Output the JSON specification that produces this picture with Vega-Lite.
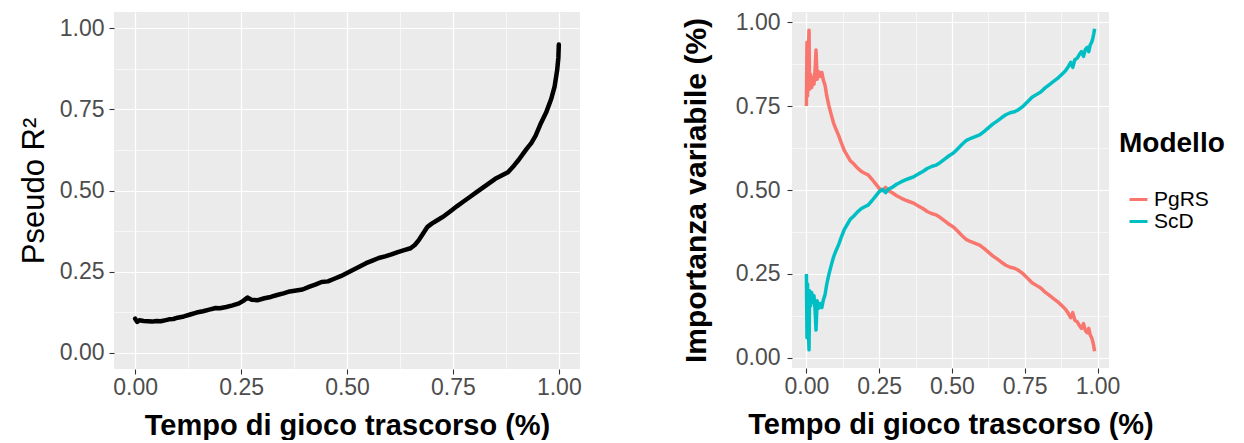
{
  "$schema": "https://vega.github.io/schema/vega-lite/v6.json",
  "padding": {"left": 18, "top": 11, "right": 5, "bottom": 0},
  "spacing": 99,
  "config": {
    "font": "Liberation Sans",
    "view": {"fill": "#EBEBEB", "stroke": null},
    "axis": {"domain": false, "tickColor": "#333333", "tickSize": 5, "tickWidth": 1.1, "labelFontSize": 23, "labelColor": "#4D4D4D", "labelOverlap": false, "labelFlush": false, "titleFontSize": 30, "titleColor": "#000000", "gridColor": "#FFFFFF"},
    "axisX": {"labelPadding": 2, "titlePadding": 12, "titleFontSize": 29},
    "axisY": {"labelPadding": 5}
  },
  "datasets": {
    "r2": [
      {"t":0.000,"r2":0.105},{"t":0.005,"r2":0.095},{"t":0.010,"r2":0.100},{"t":0.020,"r2":0.098},{"t":0.030,"r2":0.097},{"t":0.040,"r2":0.096},{"t":0.050,"r2":0.098},{"t":0.060,"r2":0.097},{"t":0.070,"r2":0.100},{"t":0.080,"r2":0.103},{"t":0.090,"r2":0.104},{"t":0.100,"r2":0.108},{"t":0.115,"r2":0.112},{"t":0.130,"r2":0.118},{"t":0.145,"r2":0.124},{"t":0.160,"r2":0.128},{"t":0.175,"r2":0.133},{"t":0.190,"r2":0.138},{"t":0.200,"r2":0.137},{"t":0.215,"r2":0.141},{"t":0.230,"r2":0.146},{"t":0.245,"r2":0.152},{"t":0.255,"r2":0.160},{"t":0.265,"r2":0.170},{"t":0.275,"r2":0.163},{"t":0.290,"r2":0.162},{"t":0.305,"r2":0.168},{"t":0.320,"r2":0.172},{"t":0.335,"r2":0.178},{"t":0.350,"r2":0.183},{"t":0.365,"r2":0.189},{"t":0.380,"r2":0.192},{"t":0.395,"r2":0.195},{"t":0.410,"r2":0.203},{"t":0.425,"r2":0.210},{"t":0.440,"r2":0.218},{"t":0.455,"r2":0.220},{"t":0.470,"r2":0.228},{"t":0.485,"r2":0.236},{"t":0.500,"r2":0.246},{"t":0.515,"r2":0.256},{"t":0.530,"r2":0.266},{"t":0.545,"r2":0.276},{"t":0.560,"r2":0.284},{"t":0.575,"r2":0.292},{"t":0.590,"r2":0.297},{"t":0.605,"r2":0.303},{"t":0.620,"r2":0.310},{"t":0.635,"r2":0.316},{"t":0.650,"r2":0.322},{"t":0.660,"r2":0.332},{"t":0.670,"r2":0.348},{"t":0.680,"r2":0.368},{"t":0.690,"r2":0.388},{"t":0.700,"r2":0.398},{"t":0.715,"r2":0.410},{"t":0.730,"r2":0.422},{"t":0.745,"r2":0.437},{"t":0.760,"r2":0.452},{"t":0.775,"r2":0.466},{"t":0.790,"r2":0.480},{"t":0.805,"r2":0.494},{"t":0.820,"r2":0.508},{"t":0.835,"r2":0.522},{"t":0.850,"r2":0.536},{"t":0.865,"r2":0.546},{"t":0.880,"r2":0.556},{"t":0.895,"r2":0.578},{"t":0.905,"r2":0.594},{"t":0.915,"r2":0.612},{"t":0.925,"r2":0.630},{"t":0.935,"r2":0.646},{"t":0.945,"r2":0.668},{"t":0.958,"r2":0.708},{"t":0.970,"r2":0.740},{"t":0.982,"r2":0.782},{"t":0.990,"r2":0.820},{"t":0.996,"r2":0.870},{"t":0.999,"r2":0.910},{"t":1.000,"r2":0.950}
    ],
    "imp": [
      {"t":0.000,"v":0.750,"Modello":"PgRS"},{"t":0.000,"v":0.250,"Modello":"ScD"},
      {"t":0.002,"v":0.940,"Modello":"PgRS"},{"t":0.002,"v":0.060,"Modello":"ScD"},
      {"t":0.004,"v":0.780,"Modello":"PgRS"},{"t":0.004,"v":0.220,"Modello":"ScD"},
      {"t":0.006,"v":0.900,"Modello":"PgRS"},{"t":0.006,"v":0.100,"Modello":"ScD"},
      {"t":0.009,"v":0.976,"Modello":"PgRS"},{"t":0.009,"v":0.024,"Modello":"ScD"},
      {"t":0.011,"v":0.800,"Modello":"PgRS"},{"t":0.011,"v":0.200,"Modello":"ScD"},
      {"t":0.014,"v":0.845,"Modello":"PgRS"},{"t":0.014,"v":0.155,"Modello":"ScD"},
      {"t":0.018,"v":0.805,"Modello":"PgRS"},{"t":0.018,"v":0.195,"Modello":"ScD"},
      {"t":0.022,"v":0.835,"Modello":"PgRS"},{"t":0.022,"v":0.165,"Modello":"ScD"},
      {"t":0.026,"v":0.815,"Modello":"PgRS"},{"t":0.026,"v":0.185,"Modello":"ScD"},
      {"t":0.030,"v":0.860,"Modello":"PgRS"},{"t":0.030,"v":0.140,"Modello":"ScD"},
      {"t":0.033,"v":0.917,"Modello":"PgRS"},{"t":0.033,"v":0.083,"Modello":"ScD"},
      {"t":0.037,"v":0.830,"Modello":"PgRS"},{"t":0.037,"v":0.170,"Modello":"ScD"},
      {"t":0.042,"v":0.852,"Modello":"PgRS"},{"t":0.042,"v":0.148,"Modello":"ScD"},
      {"t":0.048,"v":0.838,"Modello":"PgRS"},{"t":0.048,"v":0.162,"Modello":"ScD"},
      {"t":0.053,"v":0.850,"Modello":"PgRS"},{"t":0.053,"v":0.150,"Modello":"ScD"},
      {"t":0.058,"v":0.828,"Modello":"PgRS"},{"t":0.058,"v":0.172,"Modello":"ScD"},
      {"t":0.064,"v":0.812,"Modello":"PgRS"},{"t":0.064,"v":0.188,"Modello":"ScD"},
      {"t":0.070,"v":0.780,"Modello":"PgRS"},{"t":0.070,"v":0.220,"Modello":"ScD"},
      {"t":0.077,"v":0.752,"Modello":"PgRS"},{"t":0.077,"v":0.248,"Modello":"ScD"},
      {"t":0.085,"v":0.725,"Modello":"PgRS"},{"t":0.085,"v":0.275,"Modello":"ScD"},
      {"t":0.093,"v":0.700,"Modello":"PgRS"},{"t":0.093,"v":0.300,"Modello":"ScD"},
      {"t":0.102,"v":0.680,"Modello":"PgRS"},{"t":0.102,"v":0.320,"Modello":"ScD"},
      {"t":0.111,"v":0.662,"Modello":"PgRS"},{"t":0.111,"v":0.338,"Modello":"ScD"},
      {"t":0.120,"v":0.640,"Modello":"PgRS"},{"t":0.120,"v":0.360,"Modello":"ScD"},
      {"t":0.130,"v":0.618,"Modello":"PgRS"},{"t":0.130,"v":0.382,"Modello":"ScD"},
      {"t":0.140,"v":0.603,"Modello":"PgRS"},{"t":0.140,"v":0.397,"Modello":"ScD"},
      {"t":0.150,"v":0.588,"Modello":"PgRS"},{"t":0.150,"v":0.412,"Modello":"ScD"},
      {"t":0.162,"v":0.578,"Modello":"PgRS"},{"t":0.162,"v":0.422,"Modello":"ScD"},
      {"t":0.175,"v":0.566,"Modello":"PgRS"},{"t":0.175,"v":0.434,"Modello":"ScD"},
      {"t":0.188,"v":0.556,"Modello":"PgRS"},{"t":0.188,"v":0.444,"Modello":"ScD"},
      {"t":0.200,"v":0.550,"Modello":"PgRS"},{"t":0.200,"v":0.450,"Modello":"ScD"},
      {"t":0.212,"v":0.545,"Modello":"PgRS"},{"t":0.212,"v":0.455,"Modello":"ScD"},
      {"t":0.225,"v":0.532,"Modello":"PgRS"},{"t":0.225,"v":0.468,"Modello":"ScD"},
      {"t":0.238,"v":0.518,"Modello":"PgRS"},{"t":0.238,"v":0.482,"Modello":"ScD"},
      {"t":0.250,"v":0.505,"Modello":"PgRS"},{"t":0.250,"v":0.495,"Modello":"ScD"},
      {"t":0.262,"v":0.498,"Modello":"PgRS"},{"t":0.262,"v":0.502,"Modello":"ScD"},
      {"t":0.272,"v":0.508,"Modello":"PgRS"},{"t":0.272,"v":0.492,"Modello":"ScD"},
      {"t":0.282,"v":0.497,"Modello":"PgRS"},{"t":0.282,"v":0.503,"Modello":"ScD"},
      {"t":0.295,"v":0.492,"Modello":"PgRS"},{"t":0.295,"v":0.508,"Modello":"ScD"},
      {"t":0.310,"v":0.483,"Modello":"PgRS"},{"t":0.310,"v":0.517,"Modello":"ScD"},
      {"t":0.325,"v":0.476,"Modello":"PgRS"},{"t":0.325,"v":0.524,"Modello":"ScD"},
      {"t":0.340,"v":0.470,"Modello":"PgRS"},{"t":0.340,"v":0.530,"Modello":"ScD"},
      {"t":0.355,"v":0.465,"Modello":"PgRS"},{"t":0.355,"v":0.535,"Modello":"ScD"},
      {"t":0.370,"v":0.460,"Modello":"PgRS"},{"t":0.370,"v":0.540,"Modello":"ScD"},
      {"t":0.385,"v":0.452,"Modello":"PgRS"},{"t":0.385,"v":0.548,"Modello":"ScD"},
      {"t":0.400,"v":0.445,"Modello":"PgRS"},{"t":0.400,"v":0.555,"Modello":"ScD"},
      {"t":0.415,"v":0.436,"Modello":"PgRS"},{"t":0.415,"v":0.564,"Modello":"ScD"},
      {"t":0.430,"v":0.430,"Modello":"PgRS"},{"t":0.430,"v":0.570,"Modello":"ScD"},
      {"t":0.445,"v":0.426,"Modello":"PgRS"},{"t":0.445,"v":0.574,"Modello":"ScD"},
      {"t":0.460,"v":0.418,"Modello":"PgRS"},{"t":0.460,"v":0.582,"Modello":"ScD"},
      {"t":0.475,"v":0.408,"Modello":"PgRS"},{"t":0.475,"v":0.592,"Modello":"ScD"},
      {"t":0.490,"v":0.398,"Modello":"PgRS"},{"t":0.490,"v":0.602,"Modello":"ScD"},
      {"t":0.505,"v":0.390,"Modello":"PgRS"},{"t":0.505,"v":0.610,"Modello":"ScD"},
      {"t":0.520,"v":0.377,"Modello":"PgRS"},{"t":0.520,"v":0.623,"Modello":"ScD"},
      {"t":0.535,"v":0.364,"Modello":"PgRS"},{"t":0.535,"v":0.636,"Modello":"ScD"},
      {"t":0.550,"v":0.352,"Modello":"PgRS"},{"t":0.550,"v":0.648,"Modello":"ScD"},
      {"t":0.565,"v":0.346,"Modello":"PgRS"},{"t":0.565,"v":0.654,"Modello":"ScD"},
      {"t":0.580,"v":0.341,"Modello":"PgRS"},{"t":0.580,"v":0.659,"Modello":"ScD"},
      {"t":0.595,"v":0.336,"Modello":"PgRS"},{"t":0.595,"v":0.664,"Modello":"ScD"},
      {"t":0.610,"v":0.326,"Modello":"PgRS"},{"t":0.610,"v":0.674,"Modello":"ScD"},
      {"t":0.625,"v":0.315,"Modello":"PgRS"},{"t":0.625,"v":0.685,"Modello":"ScD"},
      {"t":0.640,"v":0.304,"Modello":"PgRS"},{"t":0.640,"v":0.696,"Modello":"ScD"},
      {"t":0.655,"v":0.295,"Modello":"PgRS"},{"t":0.655,"v":0.705,"Modello":"ScD"},
      {"t":0.670,"v":0.285,"Modello":"PgRS"},{"t":0.670,"v":0.715,"Modello":"ScD"},
      {"t":0.685,"v":0.276,"Modello":"PgRS"},{"t":0.685,"v":0.724,"Modello":"ScD"},
      {"t":0.700,"v":0.270,"Modello":"PgRS"},{"t":0.700,"v":0.730,"Modello":"ScD"},
      {"t":0.715,"v":0.267,"Modello":"PgRS"},{"t":0.715,"v":0.733,"Modello":"ScD"},
      {"t":0.730,"v":0.260,"Modello":"PgRS"},{"t":0.730,"v":0.740,"Modello":"ScD"},
      {"t":0.745,"v":0.250,"Modello":"PgRS"},{"t":0.745,"v":0.750,"Modello":"ScD"},
      {"t":0.760,"v":0.237,"Modello":"PgRS"},{"t":0.760,"v":0.763,"Modello":"ScD"},
      {"t":0.775,"v":0.224,"Modello":"PgRS"},{"t":0.775,"v":0.776,"Modello":"ScD"},
      {"t":0.790,"v":0.216,"Modello":"PgRS"},{"t":0.790,"v":0.784,"Modello":"ScD"},
      {"t":0.805,"v":0.208,"Modello":"PgRS"},{"t":0.805,"v":0.792,"Modello":"ScD"},
      {"t":0.820,"v":0.196,"Modello":"PgRS"},{"t":0.820,"v":0.804,"Modello":"ScD"},
      {"t":0.835,"v":0.186,"Modello":"PgRS"},{"t":0.835,"v":0.814,"Modello":"ScD"},
      {"t":0.850,"v":0.176,"Modello":"PgRS"},{"t":0.850,"v":0.824,"Modello":"ScD"},
      {"t":0.865,"v":0.166,"Modello":"PgRS"},{"t":0.865,"v":0.834,"Modello":"ScD"},
      {"t":0.878,"v":0.155,"Modello":"PgRS"},{"t":0.878,"v":0.845,"Modello":"ScD"},
      {"t":0.890,"v":0.145,"Modello":"PgRS"},{"t":0.890,"v":0.855,"Modello":"ScD"},
      {"t":0.900,"v":0.132,"Modello":"PgRS"},{"t":0.900,"v":0.868,"Modello":"ScD"},
      {"t":0.908,"v":0.120,"Modello":"PgRS"},{"t":0.908,"v":0.880,"Modello":"ScD"},
      {"t":0.915,"v":0.135,"Modello":"PgRS"},{"t":0.915,"v":0.865,"Modello":"ScD"},
      {"t":0.922,"v":0.112,"Modello":"PgRS"},{"t":0.922,"v":0.888,"Modello":"ScD"},
      {"t":0.930,"v":0.108,"Modello":"PgRS"},{"t":0.930,"v":0.892,"Modello":"ScD"},
      {"t":0.938,"v":0.096,"Modello":"PgRS"},{"t":0.938,"v":0.904,"Modello":"ScD"},
      {"t":0.945,"v":0.088,"Modello":"PgRS"},{"t":0.945,"v":0.912,"Modello":"ScD"},
      {"t":0.952,"v":0.102,"Modello":"PgRS"},{"t":0.952,"v":0.898,"Modello":"ScD"},
      {"t":0.958,"v":0.082,"Modello":"PgRS"},{"t":0.958,"v":0.918,"Modello":"ScD"},
      {"t":0.965,"v":0.075,"Modello":"PgRS"},{"t":0.965,"v":0.925,"Modello":"ScD"},
      {"t":0.970,"v":0.088,"Modello":"PgRS"},{"t":0.970,"v":0.912,"Modello":"ScD"},
      {"t":0.975,"v":0.068,"Modello":"PgRS"},{"t":0.975,"v":0.932,"Modello":"ScD"},
      {"t":0.980,"v":0.060,"Modello":"PgRS"},{"t":0.980,"v":0.940,"Modello":"ScD"},
      {"t":0.984,"v":0.048,"Modello":"PgRS"},{"t":0.984,"v":0.952,"Modello":"ScD"},
      {"t":0.987,"v":0.035,"Modello":"PgRS"},{"t":0.987,"v":0.965,"Modello":"ScD"},
      {"t":0.990,"v":0.020,"Modello":"PgRS"},{"t":0.990,"v":0.980,"Modello":"ScD"}
    ]
  },
  "hconcat": [
    {
      "width": 466,
      "height": 357,
      "data": {"name": "r2"},
      "mark": {"type": "line", "color": "#000000", "strokeWidth": 4.5, "strokeJoin": "round", "strokeCap": "round"},
      "encoding": {
        "x": {
          "field": "t", "type": "quantitative",
          "scale": {"domain": [-0.05, 1.05], "nice": false, "zero": false},
          "axis": {
            "values": [0, 0.125, 0.25, 0.375, 0.5, 0.625, 0.75, 0.875, 1],
            "format": ".2f",
            "labelExpr": "abs(datum.value*4-round(datum.value*4))>0.01 ? '' : datum.label",
            "gridWidth": {"condition": {"test": "abs(datum.value*4-round(datum.value*4))>0.01", "value": 0.6}, "value": 1.2},
            "tickOpacity": {"condition": {"test": "abs(datum.value*4-round(datum.value*4))>0.01", "value": 0}, "value": 1},
            "title": "Tempo di gioco trascorso (%)",
            "titleFontWeight": "bold"
          }
        },
        "y": {
          "field": "r2", "type": "quantitative",
          "scale": {"domain": [-0.05, 1.05], "nice": false, "zero": false},
          "axis": {
            "values": [0, 0.125, 0.25, 0.375, 0.5, 0.625, 0.75, 0.875, 1],
            "format": ".2f",
            "labelExpr": "abs(datum.value*4-round(datum.value*4))>0.01 ? '' : datum.label",
            "gridWidth": {"condition": {"test": "abs(datum.value*4-round(datum.value*4))>0.01", "value": 0.6}, "value": 1.2},
            "tickOpacity": {"condition": {"test": "abs(datum.value*4-round(datum.value*4))>0.01", "value": 0}, "value": 1},
            "title": "Pseudo R²",
            "titleFontWeight": "normal",
            "titleFontSize": 31,
            "titlePadding": 9
          }
        }
      }
    },
    {
      "width": 317,
      "height": 356,
      "data": {"name": "imp"},
      "mark": {"type": "line", "strokeWidth": 3.5, "strokeJoin": "round"},
      "encoding": {
        "x": {
          "field": "t", "type": "quantitative",
          "scale": {"domain": [-0.0495, 1.0395], "nice": false, "zero": false},
          "axis": {
            "values": [0, 0.125, 0.25, 0.375, 0.5, 0.625, 0.75, 0.875, 1],
            "format": ".2f",
            "labelExpr": "abs(datum.value*4-round(datum.value*4))>0.01 ? '' : datum.label",
            "gridWidth": {"condition": {"test": "abs(datum.value*4-round(datum.value*4))>0.01", "value": 0.6}, "value": 1.2},
            "tickOpacity": {"condition": {"test": "abs(datum.value*4-round(datum.value*4))>0.01", "value": 0}, "value": 1},
            "title": "Tempo di gioco trascorso (%)",
            "titleFontWeight": "bold"
          }
        },
        "y": {
          "field": "v", "type": "quantitative",
          "scale": {"domain": [-0.03, 1.03], "nice": false, "zero": false},
          "axis": {
            "values": [0, 0.125, 0.25, 0.375, 0.5, 0.625, 0.75, 0.875, 1],
            "format": ".2f",
            "labelExpr": "abs(datum.value*4-round(datum.value*4))>0.01 ? '' : datum.label",
            "gridWidth": {"condition": {"test": "abs(datum.value*4-round(datum.value*4))>0.01", "value": 0.6}, "value": 1.2},
            "tickOpacity": {"condition": {"test": "abs(datum.value*4-round(datum.value*4))>0.01", "value": 0}, "value": 1},
            "title": "Importanza variabile (%)",
            "titleFontWeight": "bold",
            "labelPadding": 7,
            "titlePadding": 24
          }
        },
        "color": {
          "field": "Modello", "type": "nominal",
          "scale": {"domain": ["PgRS", "ScD"], "range": ["#F8766D", "#00BFC4"]},
          "legend": {
            "orient": "none", "legendX": 1005, "legendY": 118,
            "title": "Modello", "titleFontSize": 28, "titleFontWeight": "bold", "titleColor": "#000000", "titlePadding": 31,
            "labelFontSize": 21, "labelColor": "#000000", "labelOffset": 5,
            "symbolType": "stroke", "symbolStrokeWidth": 3, "symbolSize": 324, "symbolOffset": 9, "rowPadding": 0
          }
        }
      }
    }
  ]
}
